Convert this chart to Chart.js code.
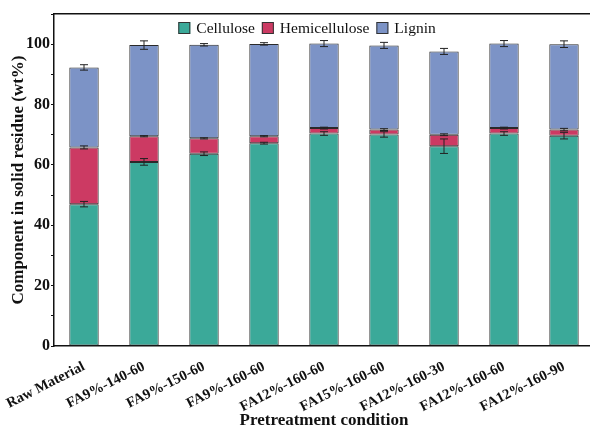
<!DOCTYPE html>
<html>
<head>
<meta charset="utf-8">
<script src="https://cdn.jsdelivr.net/npm/chart.js@4.4.1/dist/chart.umd.min.js"></script>
<style>
  html, body { margin: 0; padding: 0; background: #fff; overflow: hidden; }
  #wrap { width: 600px; height: 432px; }
</style>
</head>
<body>
<div id="wrap"><canvas id="chart" width="600" height="432"></canvas></div>
<script>
  var categories = ["Raw Material", "FA9%-140-60", "FA9%-150-60", "FA9%-160-60", "FA12%-160-60",
    "FA15%-160-60", "FA12%-160-30", "FA12%-160-60", "FA12%-160-90"];

  // segment heights (wt%), stacked bottom to top
  var cellulose = [47.0, 61.0, 63.7, 67.2, 70.4, 70.1, 66.2, 70.4, 69.7];
  var hemicellulose = [18.8, 8.5, 5.1, 2.3, 1.8, 1.6, 3.8, 1.8, 2.0];
  var lignin = [26.5, 30.2, 31.0, 30.6, 28.0, 27.9, 27.6, 28.0, 28.3];

  // error bar half-widths
  var celluloseErr = [0.9, 1.1, 0.6, 0.3, 0.6, 0.9, 2.4, 0.6, 1.1];
  var hemicelluloseErr = [0.5, 0.2, 0.2, 0.2, 0.3, 0.3, 0.3, 0.3, 0.4];
  var ligninErr = [0.9, 1.4, 0.4, 0.4, 1.0, 1.0, 1.0, 1.0, 1.1];

  var yTicks = [0, 20, 40, 60, 80, 100];
  var yMax = 110;

  var yTitle = "Component in solid residue (wt%)";
  var xTitle = "Pretreatment condition";

  var serif = "'Liberation Serif', 'Times New Roman', serif";

  function dataset(label, data, err, color) {
    return {
      label: label,
      data: data,
      errors: err,
      backgroundColor: color,
      borderColor: "#2a2a2a",
      borderWidth: 1,
      borderSkipped: false,
      barPercentage: 0.49,
      categoryPercentage: 1.0
    };
  }

  var errorBars = {
    id: "errorBars",
    afterDatasetsDraw: function (chart) {
      var ctx = chart.ctx;
      var y = chart.scales.y;
      var sums = categories.map(function () { return 0; });
      ctx.save();
      ctx.strokeStyle = "#222";
      ctx.lineWidth = 1;
      chart.data.datasets.forEach(function (ds, i) {
        var meta = chart.getDatasetMeta(i);
        ds.data.forEach(function (v, j) {
          sums[j] += v;
          var e = ds.errors[j];
          var x = meta.data[j].x;
          var top = y.getPixelForValue(sums[j] + e);
          var bot = y.getPixelForValue(sums[j] - e);
          ctx.beginPath();
          ctx.moveTo(x, top); ctx.lineTo(x, bot);
          ctx.moveTo(x - 4, top); ctx.lineTo(x + 4, top);
          ctx.moveTo(x - 4, bot); ctx.lineTo(x + 4, bot);
          ctx.stroke();
        });
      });
      ctx.restore();
    }
  };

  // legend drawn inside the plot frame, near the top
  var insideLegend = {
    id: "insideLegend",
    afterDraw: function (chart) {
      var ctx = chart.ctx;
      ctx.save();
      ctx.font = "15.5px " + serif;
      ctx.textBaseline = "middle";
      ctx.textAlign = "left";
      var box = 12, gapText = 6, gapItem = 7;
      var items = chart.data.datasets.map(function (ds) {
        return { ds: ds, w: box + gapText + ctx.measureText(ds.label).width };
      });
      var total = items.reduce(function (a, it) { return a + it.w; }, 0) + gapItem * (items.length - 1);
      var x = 307 - total / 2;
      var cy = chart.chartArea.top + 14;
      items.forEach(function (it) {
        ctx.fillStyle = it.ds.backgroundColor;
        ctx.fillRect(x, cy - box / 2, box, box);
        ctx.strokeStyle = "#333";
        ctx.lineWidth = 1;
        ctx.strokeRect(x + 0.5, cy - box / 2 + 0.5, box - 1, box - 1);
        ctx.fillStyle = "#111";
        ctx.fillText(it.ds.label, x + box + gapText, cy + 1);
        x += it.w + gapItem;
      });
      ctx.restore();
    }
  };

  new Chart(document.getElementById("chart").getContext("2d"), {
    type: "bar",
    data: {
      labels: categories,
      datasets: [
        dataset("Cellulose", cellulose, celluloseErr, "#3ba999"),
        dataset("Hemicellulose", hemicellulose, hemicelluloseErr, "#cc3a63"),
        dataset("Lignin", lignin, ligninErr, "#7c93c6")
      ]
    },
    options: {
      responsive: false,
      animation: false,
      devicePixelRatio: 1,
      layout: { padding: { right: 6, left: 0, top: 0, bottom: 0 } },
      plugins: {
        legend: { display: false },
        tooltip: { enabled: false }
      },
      scales: {
        x: {
          stacked: true,
          grid: { display: false, drawTicks: false },
          border: { color: "#111", width: 1.5 },
          ticks: {
            color: "#111",
            font: { family: serif, size: 14.5, weight: "bold" },
            minRotation: 27,
            maxRotation: 27,
            padding: 12,
            autoSkip: false
          },
          title: {
            display: true,
            text: xTitle,
            color: "#111",
            font: { family: serif, size: 17, weight: "bold" },
            padding: { top: 0, bottom: 1 }
          },
          afterFit: function (s) {
            s.height = 86;
            s.paddingLeft = 0;
            s.paddingRight = 0;
          }
        },
        xTop: {
          position: "top",
          grid: { display: false, drawTicks: false },
          border: { color: "#111", width: 1.5 },
          ticks: { display: false },
          afterFit: function (s) { s.height = 14; }
        },
        y: {
          stacked: true,
          min: 0,
          max: yMax,
          grid: { drawOnChartArea: false, drawTicks: true, tickLength: 3, color: "#111" },
          border: { color: "#111", width: 1.5 },
          ticks: {
            stepSize: 10,
            color: "#111",
            padding: 1,
            font: { family: serif, size: 16, weight: "bold" },
            callback: function (v) { return yTicks.indexOf(v) >= 0 ? v : ""; }
          },
          title: {
            display: true,
            text: yTitle,
            color: "#111",
            font: { family: serif, size: 17, weight: "bold" },
            padding: { top: 8, bottom: 0 }
          },
          afterFit: function (s) {
            s.width = 54;
            s.paddingTop = 0;
            s.paddingBottom = 0;
          }
        }
      }
    },
    plugins: [errorBars, insideLegend]
  });
</script>
</body>
</html>
